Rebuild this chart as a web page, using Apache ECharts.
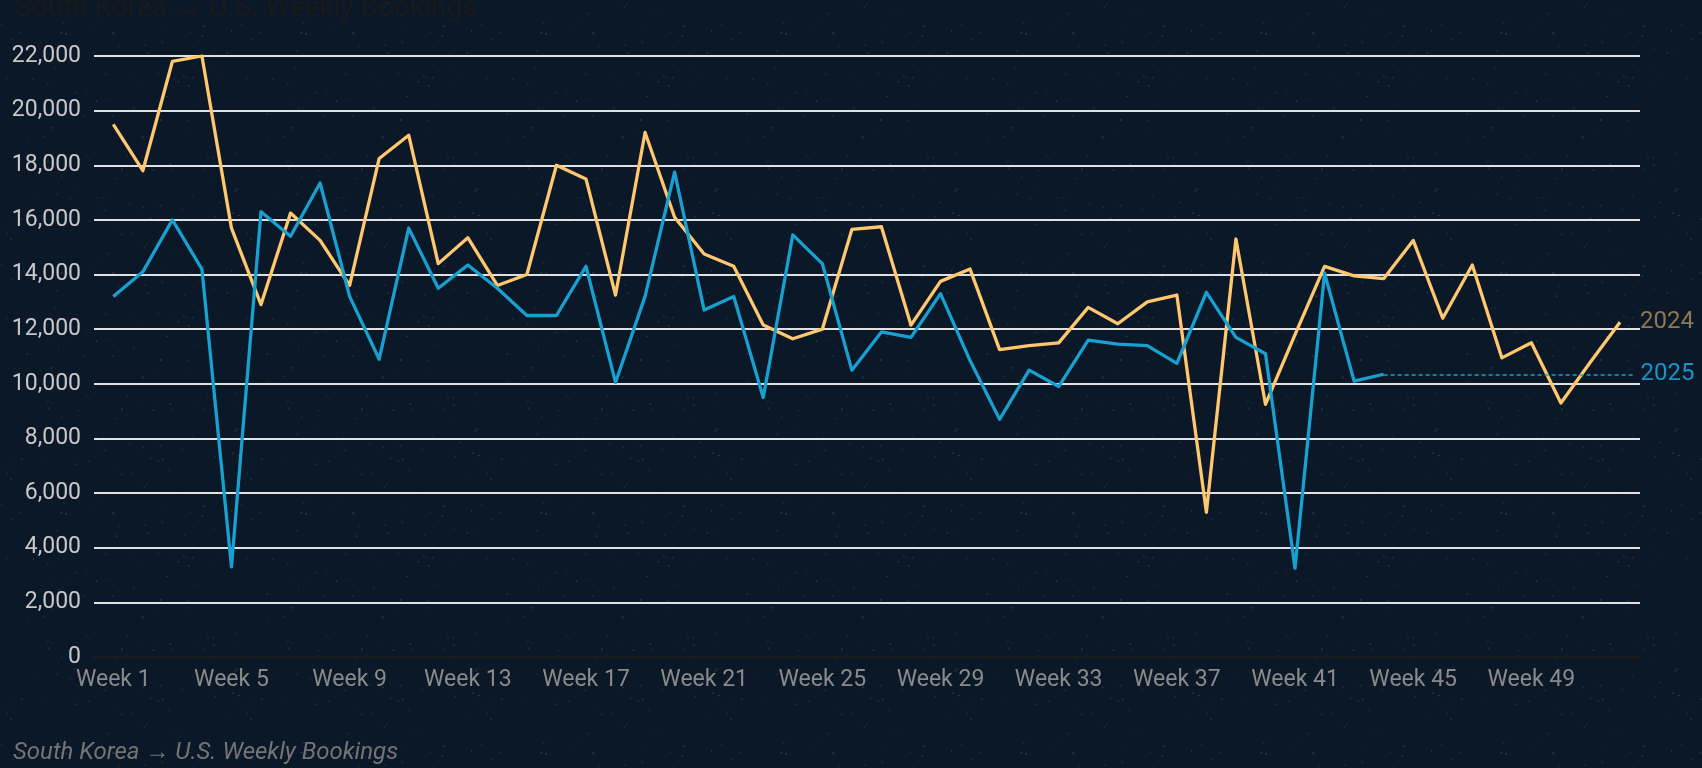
<!DOCTYPE html>
<html>
<head>
<meta charset="utf-8">
<script src="https://cdn.jsdelivr.net/npm/echarts@6/dist/echarts.min.js"></script>
<style>
  html, body { margin: 0; padding: 0; width: 1702px; height: 768px; overflow: hidden; background: #0a1828; }
  #chart { width: 1702px; height: 768px; }
</style>
</head>
<body>
<div id="chart"></div>
<script>
// ---- data ----
const weeks2024 = [1,2,3,4,5,6,7,8,9,10,11,12,13,14,15,16,17,18,19,20,21,22,23,24,25,26,
                   27,28,29,30,31,32,33,34,35,36,37,38,39,40,41,42,43,44,45,46,47,48,49,50,51,52];
const values2024 = [19500,17800,21800,22000,15700,12900,16250,15250,13600,18250,19100,14400,15350,
                    13600,14000,18000,17500,13250,19200,16100,14750,14300,12150,11650,12000,15650,
                    15750,12150,13750,14200,11250,11400,11500,12800,12200,13000,13250,5300,15300,
                    9250,11800,14300,13950,13850,15250,12400,14350,10950,11500,9300,10800,12250];
const weeks2025 = [1,2,3,4,5,6,7,8,9,10,11,12,13,14,15,16,17,18,19,20,21,22,
                   23,24,25,26,27,28,29,30,31,32,33,34,35,36,37,38,39,40,41,42,43,44];
const values2025 = [13200,14100,16000,14200,3300,16300,15400,17350,13200,10900,15700,13500,14350,
                    13500,12500,12500,14300,10050,13200,17750,12700,13200,9500,15450,14400,10500,
                    11900,11700,13300,10850,8700,10500,9900,11600,11450,11400,10750,13350,11700,
                    11100,3250,14050,10100,10350];
const xTickWeeks = [1,5,9,13,17,21,25,29,33,37,41,45,49];
const seriesNames = ['2024', '2025'];
const titleText = 'South Korea \u2192 U.S. Weekly Bookings';

// ---- faint star-speckle background (deterministic) ----
(function () {
  const c = document.createElement('canvas');
  c.width = 240; c.height = 240;
  const g = c.getContext('2d');
  g.fillStyle = '#0a1828';
  g.fillRect(0, 0, 240, 240);
  let s = 12345;
  function rnd() { s = (s * 1103515245 + 12345) % 2147483648; return s / 2147483648; }
  for (let i = 0; i < 140; i++) {
    const x = rnd() * 240, y = rnd() * 240, a = 0.06 + rnd() * 0.12;
    g.fillStyle = 'rgba(200,215,235,' + a.toFixed(3) + ')';
    g.fillRect(x, y, rnd() < 0.3 ? 2 : 1.3, rnd() < 0.3 ? 2 : 1.3);
  }
  document.body.style.backgroundImage = 'url(' + c.toDataURL() + ')';
})();

const pairs2024 = weeks2024.map((w, i) => [w, values2024[i]]);
const pairs2025 = weeks2025.map((w, i) => [w, values2025[i]]);
const last2025 = pairs2025[pairs2025.length - 1];

const X_MIN = 0.347, X_MAX = 52.677;

const chart = echarts.init(document.getElementById('chart'), null, { renderer: 'canvas' });
chart.setOption({
  backgroundColor: 'transparent',
  animation: false,
  textStyle: { fontFamily: 'Roboto' },
  title: [
    {
      text: titleText, left: 10, top: -10,
      textStyle: { color: '#1b1a1a', fontSize: 28, fontWeight: 'normal', fontFamily: 'Roboto' }
    },
    {
      text: titleText, left: 8, top: 736,
      textStyle: { color: '#747474', fontSize: 24, fontStyle: 'italic', fontWeight: 'normal', fontFamily: 'Roboto' }
    }
  ],
  grid: { left: 94, right: 62, top: 56, bottom: 111, containLabel: false },
  xAxis: {
    type: 'value', min: X_MIN, max: X_MAX,
    axisLine: { show: true, lineStyle: { color: '#1c1c1c', width: 2 } },
    axisTick: { show: false },
    splitLine: { show: false },
    axisLabel: {
      customValues: xTickWeeks,
      formatter: v => 'Week ' + v,
      color: '#8a8a8a', fontSize: 23, margin: 12, fontFamily: 'Roboto'
    }
  },
  yAxis: {
    type: 'value', min: 0, max: 22000, interval: 2000,
    axisLine: { show: false }, axisTick: { show: false },
    splitLine: { lineStyle: { color: '#e0e0e0', width: 1.8 } },
    axisLabel: {
      color: '#c8c8c8', fontSize: 23, margin: 13, fontFamily: 'Roboto',
      formatter: v => v.toLocaleString('en-US')
    }
  },
  series: [
    {
      name: seriesNames[0], type: 'line', data: pairs2024,
      showSymbol: false, symbol: 'none', z: 3,
      lineStyle: { color: '#ffc76e', width: 3.3, join: 'round' },
      endLabel: { show: true, formatter: seriesNames[0], color: '#8f7852', fontSize: 24, distance: 20, fontFamily: 'Roboto' }
    },
    {
      name: seriesNames[1], type: 'line', data: pairs2025,
      showSymbol: false, symbol: 'none', z: 4,
      lineStyle: { color: '#18a0d0', width: 3.3, join: 'round' },
      markLine: {
        silent: true, symbol: 'none', animation: false,
        lineStyle: { color: '#18a0d0', width: 1.6, type: [4, 3] },
        label: { show: true, position: 'end', formatter: seriesNames[1], color: '#1a94c6', fontSize: 24, distance: 7, fontFamily: 'Roboto' },
        data: [[{ coord: [last2025[0], last2025[1]] }, { coord: [X_MAX - 0.22, last2025[1]] }]]
      }
    }
  ]
});
</script>
</body>
</html>
